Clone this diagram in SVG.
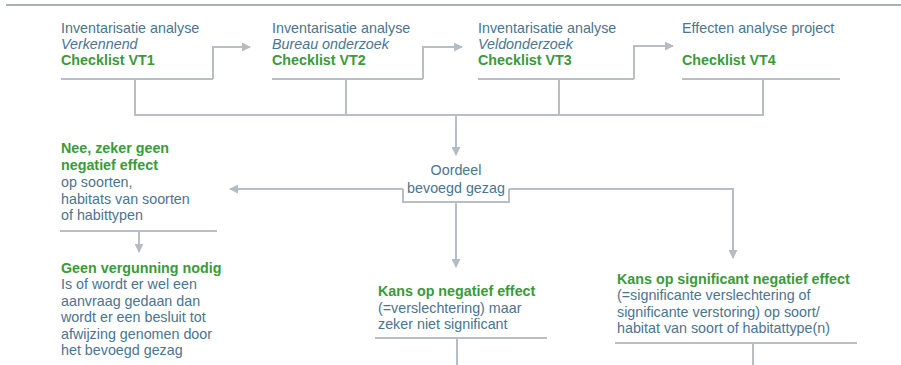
<svg xmlns="http://www.w3.org/2000/svg" width="901" height="365" viewBox="0 0 901 365">
  <defs>
    <marker id="arr" viewBox="0 0 10 10" refX="9" refY="5" markerWidth="9" markerHeight="9" markerUnits="userSpaceOnUse" orient="auto">
      <path d="M0,0 L10,5 L0,10 Z" fill="#b4bcc1"/>
    </marker>
  </defs>
  <style>
    text { font-family: "Liberation Sans", Arial, sans-serif; font-size: 14.3px; fill: #4a7490; }
    .g { fill: #3a9a3a; font-weight: bold; }
    .i { font-style: italic; }
    .c { text-anchor: middle; }
    .ln { fill: none; stroke: #b8bfc4; stroke-width: 2; }
    .ar { fill: none; stroke: #b8bfc4; stroke-width: 2; marker-end: url(#arr); }
  </style>
  <rect width="901" height="365" fill="#ffffff"/>
  <line x1="6" y1="5" x2="901" y2="5" stroke="#a9b1b6" stroke-width="2"/>

  <g id="connectors">
    <path class="ar" d="M213,79 V47 H250"/>
    <path class="ar" d="M423,79 V47 H462"/>
    <path class="ar" d="M634,79 V46 H673"/>
    <path class="ln" d="M135,79 V115 H763 V79"/>
    <path class="ln" d="M346,79 V115"/>
    <path class="ln" d="M559,79 V115"/>
    <path class="ar" d="M456,115 V155"/>
    <path class="ar" d="M403,189 H230"/>
    <path class="ln" d="M403,189 V202 H509 V189"/>
    <path class="ar" d="M509,189 H733 V258"/>
    <path class="ar" d="M456,202 V267"/>
    <path class="ar" d="M139,231 V252"/>
    <path class="ln" d="M457,338 V365"/>
    <path class="ln" d="M753,343 V365"/>
  </g>

  <g id="vt1">
    <text x="61" y="33">Inventarisatie analyse</text>
    <text x="61" y="49" class="i">Verkennend</text>
    <text x="61" y="65" class="g">Checklist VT1</text>
    <line class="ln" x1="61" y1="79" x2="213" y2="79"/>
  </g>
  <g id="vt2">
    <text x="272" y="33">Inventarisatie analyse</text>
    <text x="272" y="49" class="i">Bureau onderzoek</text>
    <text x="272" y="65" class="g">Checklist VT2</text>
    <line class="ln" x1="272" y1="79" x2="423" y2="79"/>
  </g>
  <g id="vt3">
    <text x="478" y="33">Inventarisatie analyse</text>
    <text x="478" y="49" class="i">Veldonderzoek</text>
    <text x="478" y="65" class="g">Checklist VT3</text>
    <line class="ln" x1="478" y1="79" x2="634" y2="79"/>
  </g>
  <g id="vt4">
    <text x="682" y="33">Effecten analyse project</text>
    <text x="682" y="65" class="g">Checklist VT4</text>
    <line class="ln" x1="682" y1="79" x2="840" y2="79"/>
  </g>

  <g id="oordeel">
    <text x="456" y="175" class="c">Oordeel</text>
    <text x="456" y="193" class="c">bevoegd gezag</text>
  </g>

  <g id="nee">
    <text x="61" y="153" class="g">Nee, zeker geen</text>
    <text x="61" y="170" class="g">negatief effect</text>
    <text x="61" y="187">op soorten,</text>
    <text x="61" y="204">habitats van soorten</text>
    <text x="61" y="220">of habittypen</text>
    <line class="ln" x1="60" y1="231" x2="217" y2="231"/>
  </g>

  <g id="geen-vergunning">
    <text x="61" y="273" class="g">Geen vergunning nodig</text>
    <text x="61" y="289">Is of wordt er wel een</text>
    <text x="61" y="306">aanvraag gedaan dan</text>
    <text x="61" y="322">wordt er een besluit tot</text>
    <text x="61" y="339">afwijzing genomen door</text>
    <text x="61" y="355">het bevoegd gezag</text>
  </g>

  <g id="kans-negatief">
    <text x="378" y="296" class="g">Kans op negatief effect</text>
    <text x="378" y="313">(=verslechtering) maar</text>
    <text x="378" y="329">zeker niet significant</text>
    <line class="ln" x1="375" y1="338" x2="547" y2="338"/>
  </g>

  <g id="kans-significant">
    <text x="617" y="284" class="g">Kans op significant negatief effect</text>
    <text x="617" y="300">(=significante verslechtering of</text>
    <text x="617" y="317">significante verstoring) op soort/</text>
    <text x="617" y="333">habitat van soort of habitattype(n)</text>
    <line class="ln" x1="615" y1="343" x2="857" y2="343"/>
  </g>
</svg>
